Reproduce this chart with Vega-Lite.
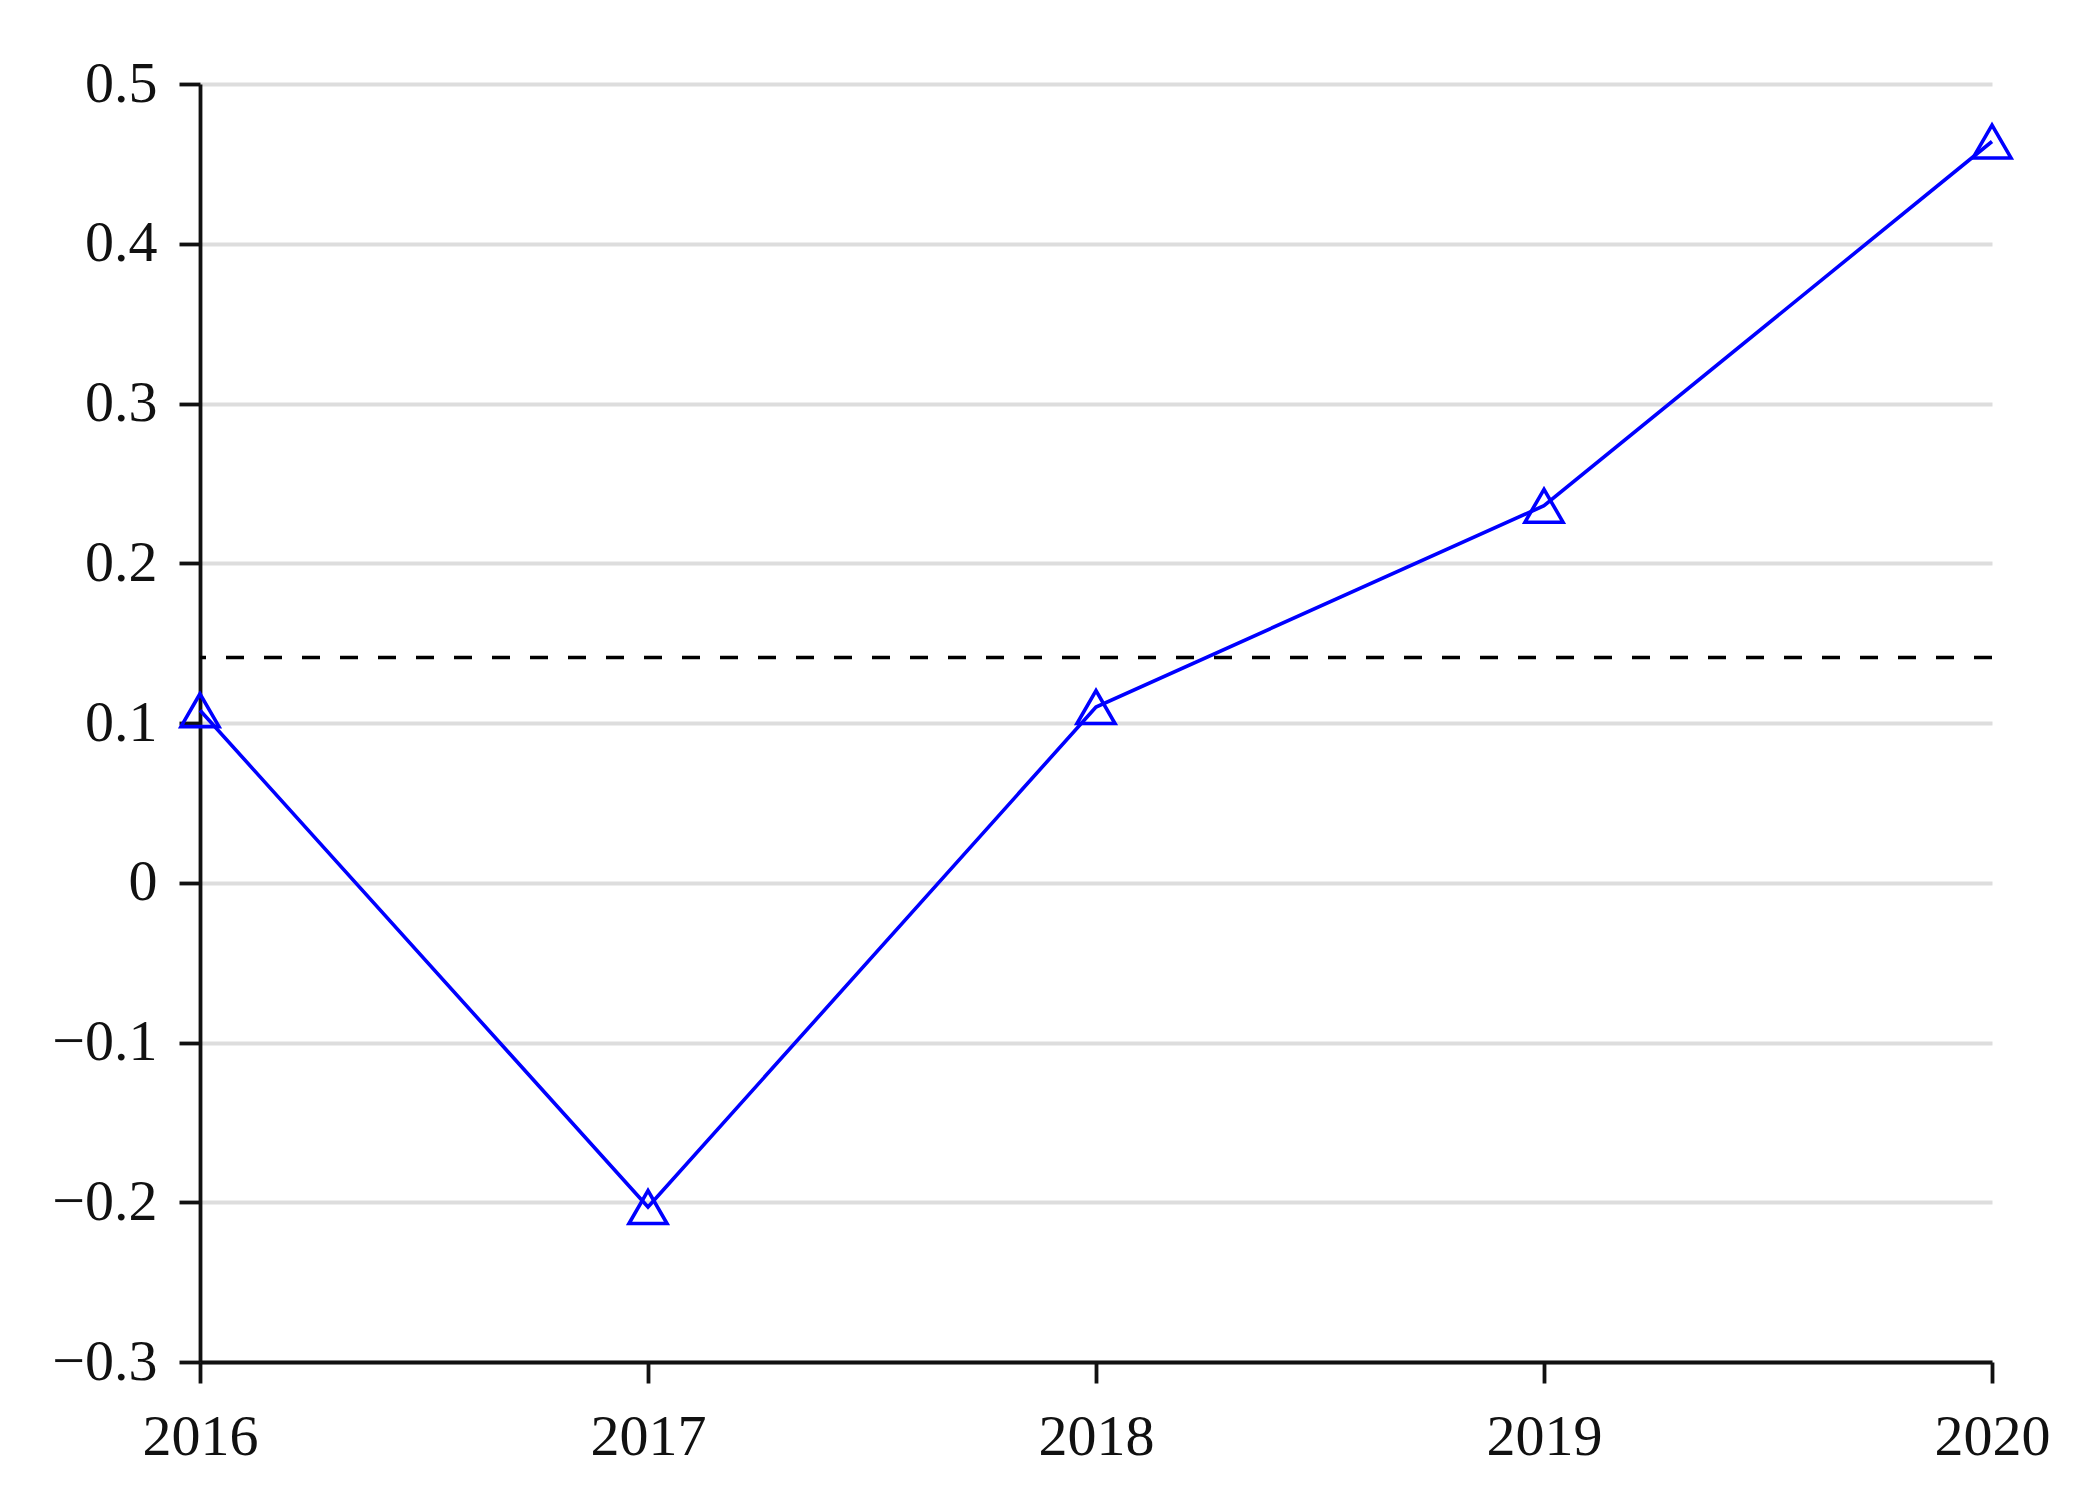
{
  "$schema": "https://vega.github.io/schema/vega-lite/v6.json",
  "autosize": "none",
  "width": 1792,
  "height": 1278,
  "padding": {"left": 200, "top": 84, "right": 94, "bottom": 144},
  "background": "white",
  "config": {
    "view": {"stroke": null},
    "font": "Liberation Serif"
  },
  "layer": [
    {
      "data": {"values": [
        {"year": 2016, "value": 0.108},
        {"year": 2017, "value": -0.203},
        {"year": 2018, "value": 0.110},
        {"year": 2019, "value": 0.236},
        {"year": 2020, "value": 0.464}
      ]},
      "layer": [
        {
          "mark": {"type": "line", "color": "#0000ff", "strokeWidth": 3.6, "clip": false},
          "encoding": {
            "x": {
              "field": "year", "type": "quantitative",
              "scale": {"domain": [2016, 2020], "nice": false, "zero": false},
              "axis": {
                "values": [2016, 2017, 2018, 2019, 2020],
                "format": "d",
                "title": null,
                "grid": false,
                "domainColor": "#111111", "domainWidth": 3.8,
                "tickColor": "#111111", "tickWidth": 3.8, "tickSize": 21,
                "labelFont": "Liberation Serif", "labelFontSize": 58,
                "labelColor": "#111111", "labelPadding": 25,
                "labelFlush": false, "labelOverlap": false
              }
            },
            "y": {
              "field": "value", "type": "quantitative",
              "scale": {"domain": [-0.3, 0.5], "nice": false, "zero": false},
              "axis": {
                "values": [-0.3, -0.2, -0.1, 0, 0.1, 0.2, 0.3, 0.4, 0.5],
                "labelExpr": "abs(datum.value) < 1e-9 ? '0' : format(datum.value, '.1f')",
                "title": null,
                "grid": true, "gridColor": "#dddddd", "gridWidth": 3.8,
                "domainColor": "#111111", "domainWidth": 3.8,
                "tickColor": "#111111", "tickWidth": 3.8, "tickSize": 21,
                "labelFont": "Liberation Serif", "labelFontSize": 58,
                "labelColor": "#111111", "labelPadding": 22,
                "labelFlush": false, "labelOverlap": false
              }
            }
          }
        },
        {
          "mark": {"type": "point", "shape": "triangle-up", "filled": false, "stroke": "#0000ff", "strokeWidth": 3.6, "size": 1444, "opacity": 1, "clip": false},
          "encoding": {
            "x": {"field": "year", "type": "quantitative"},
            "y": {"field": "value", "type": "quantitative"}
          }
        }
      ]
    },
    {
      "data": {"values": [{"mean": 0.141}]},
      "mark": {"type": "rule", "color": "#000000", "strokeWidth": 3.6, "strokeDash": [18, 20]},
      "encoding": {
        "y": {"field": "mean", "type": "quantitative"}
      }
    }
  ]
}
